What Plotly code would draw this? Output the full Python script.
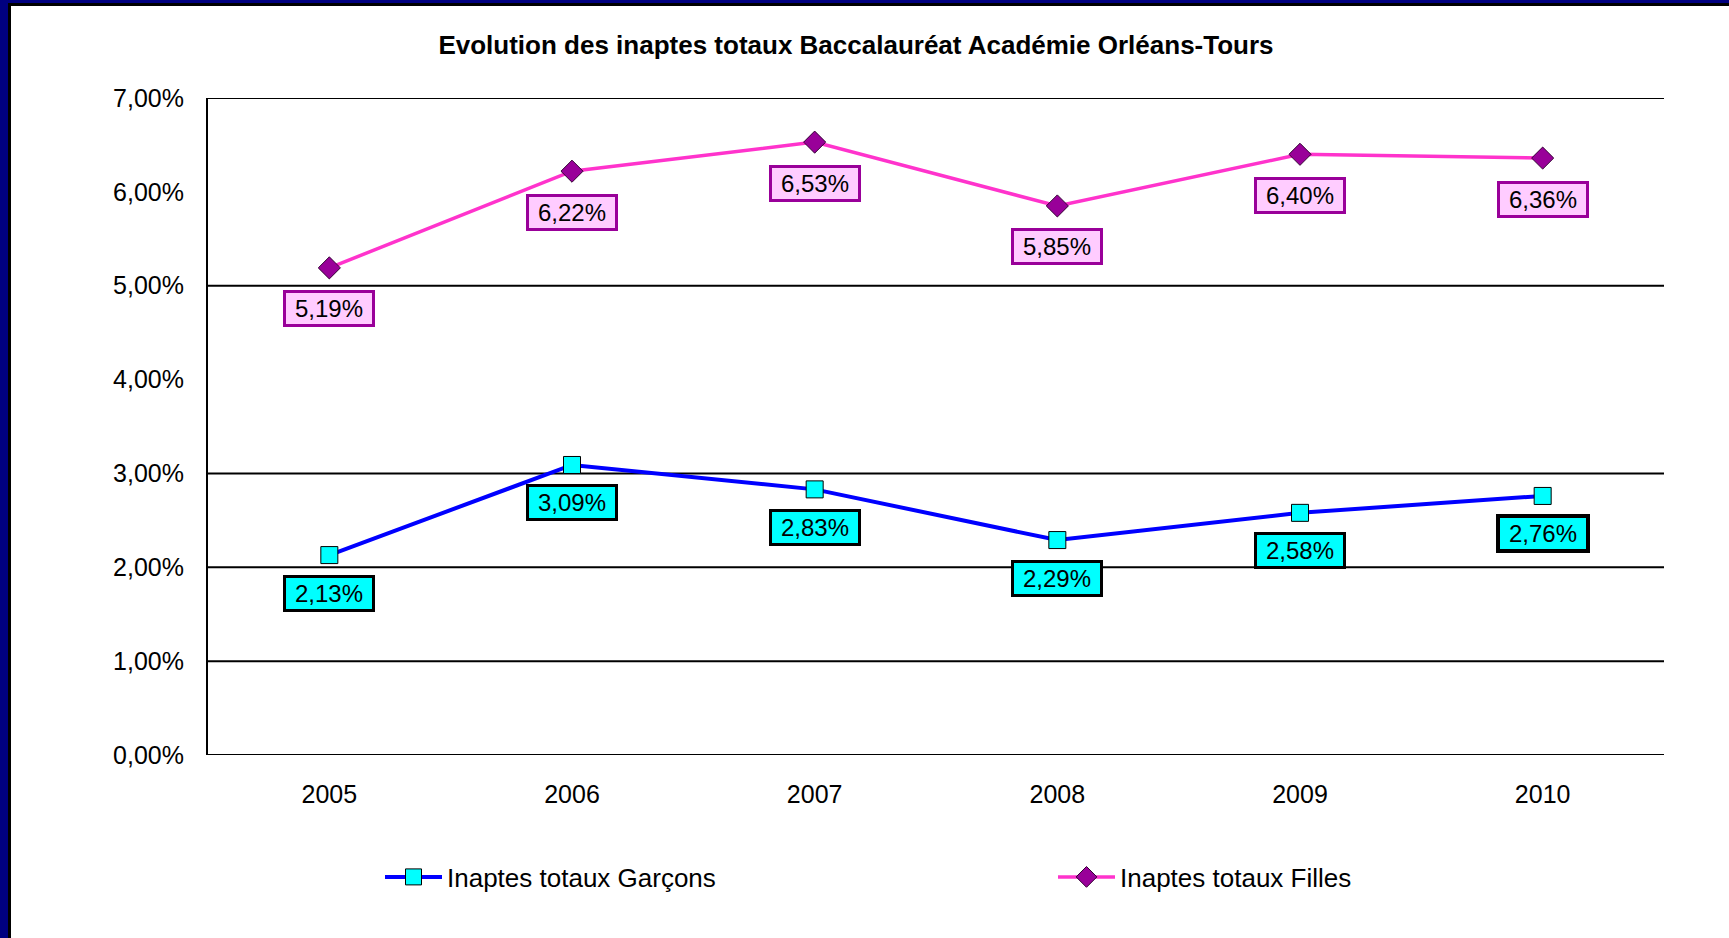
import plotly.graph_objects as go

YEARS = ["2005", "2006", "2007", "2008", "2009", "2010"]
GARCONS = [2.13, 3.09, 2.83, 2.29, 2.58, 2.76]
FILLES = [5.19, 6.22, 6.53, 5.85, 6.40, 6.36]
Y_TICKS = [0, 1, 2, 3, 4, 5, 6, 7]
GRID_LINES = [0, 1, 2, 3, 5, 7]
TITLE = "Evolution des inaptes totaux Baccalauréat Académie Orléans-Tours"
NAME_G = "Inaptes totaux Garçons"
NAME_F = "Inaptes totaux Filles"

FONT = "Liberation Sans, Arial, sans-serif"
W, H = 1729, 938
ML, MR, MT, MB = 208, 65, 98, 183
PW, PH = W - ML - MR, H - MT - MB


def px_to_paper_x(px):
    return (px - ML) / PW


def px_to_paper_y(py):
    return (H - MB - py) / PH


def fmt(v):
    return f"{v:.2f}%".replace(".", ",")


X_IDX = list(range(len(YEARS)))

fig = go.Figure()
fig.add_trace(go.Scatter(
    x=X_IDX, y=GARCONS, name=NAME_G, mode="lines+markers",
    line=dict(color="#0000FF", width=4),
    marker=dict(symbol="square", size=17, color="#00FFFF", line=dict(color="#000000", width=1)),
    legend="legend",
))
fig.add_trace(go.Scatter(
    x=X_IDX, y=FILLES, name=NAME_F, mode="lines+markers",
    line=dict(color="#FF33CC", width=3.5),
    marker=dict(symbol="diamond", size=17, color="#990099", line=dict(color="#330033", width=1)),
    legend="legend2",
))

shapes = []
# white panel inside the navy frame
shapes.append(dict(type="rect", xref="paper", yref="paper", layer="below",
                   x0=px_to_paper_x(9.5), x1=px_to_paper_x(W + 20),
                   y0=px_to_paper_y(H + 20), y1=px_to_paper_y(4.5),
                   fillcolor="white", line=dict(color="black", width=3)))
for g in GRID_LINES:
    shapes.append(dict(type="line", xref="paper", yref="y", x0=0, x1=1, y0=g, y1=g,
                       line=dict(color="black", width=2), layer="below"))

annotations = []
for i, v in enumerate(FILLES):
    annotations.append(dict(x=i, y=v, xref="x", yref="y", text=fmt(v), showarrow=False,
                            yshift=-41, xanchor="center", yanchor="middle",
                            bgcolor="#FFCCFF", bordercolor="#990099", borderwidth=3, borderpad=2,
                            width=82, font=dict(family=FONT, size=24, color="black")))
for i, v in enumerate(GARCONS):
    annotations.append(dict(x=i, y=v, xref="x", yref="y", text=fmt(v), showarrow=False,
                            yshift=-38, xanchor="center", yanchor="middle",
                            bgcolor="#00FFFF", bordercolor="#000000",
                            borderwidth=4 if i == len(GARCONS) - 1 else 3, borderpad=2,
                            width=82, font=dict(family=FONT, size=24, color="black")))

fig.update_layout(
    width=W, height=H,
    margin=dict(l=ML, r=MR, t=MT, b=MB),
    paper_bgcolor="#000080",
    plot_bgcolor="rgba(0,0,0,0)",
    font=dict(family=FONT, size=24, color="black"),
    title=dict(text=f"<b>{TITLE}</b>", x=856 / W, xref="container",
               xanchor="center", y=1 - 45 / H, yref="container", yanchor="middle",
               font=dict(family=FONT, size=26, color="black")),
    shapes=shapes,
    annotations=annotations,
    showlegend=True,
    legend=dict(orientation="h", x=px_to_paper_x(380), y=px_to_paper_y(877),
                xanchor="left", yanchor="middle", bgcolor="rgba(0,0,0,0)", itemwidth=57,
                font=dict(family=FONT, size=26, color="black")),
    legend2=dict(orientation="h", x=px_to_paper_x(1053), y=px_to_paper_y(877),
                 xanchor="left", yanchor="middle", bgcolor="rgba(0,0,0,0)", itemwidth=57,
                 font=dict(family=FONT, size=26, color="black")),
)
fig.update_xaxes(range=[-0.5, len(YEARS) - 0.5], tickvals=X_IDX, ticktext=YEARS,
                 showgrid=False, zeroline=False, showline=False, ticks="", ticklabelstandoff=22,
                 tickfont=dict(family=FONT, size=25, color="black"))
fig.update_yaxes(range=[0, 7], tickvals=Y_TICKS, ticktext=[fmt(t) for t in Y_TICKS],
                 showgrid=False, zeroline=False, showline=True, linecolor="black", linewidth=2,
                 ticks="", ticklabelstandoff=17,
                 tickfont=dict(family=FONT, size=25, color="black"))

fig.write_html("out.html", config={"displayModeBar": False},
               post_script="document.body.style.margin='0px';document.body.style.overflow='hidden';")
